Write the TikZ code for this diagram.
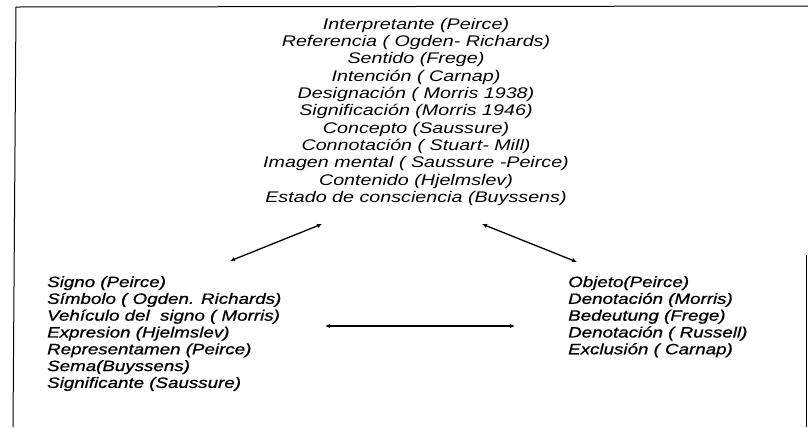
\documentclass[tikz,border=0pt]{standalone}
\usepackage{fontspec}
\usetikzlibrary{arrows.meta}
\newfontfamily\topfont{Liberation Sans}[FakeStretch=1.28]
\newfontfamily\botfont{Liberation Sans}[FakeStretch=1.25,ItalicFeatures={FakeBold=0.8}]
\tikzset{
  toptext/.style={inner sep=0pt, align=center, anchor=north,
    font=\topfont\itshape\fontsize{15.4bp}{17.3bp}\selectfont},
  bottext/.style={inner sep=0pt, align=left, anchor=north west,
    font=\botfont\itshape\fontsize{15bp}{16.8bp}\selectfont},
  link/.style={line width=1.3bp, {Latex[length=5bp,width=4.5bp]}-{Latex[length=5bp,width=4.5bp]}},
  frame/.style={line width=1bp}
}
\begin{document}
\begin{tikzpicture}[x=1bp,y=-1bp]
\useasboundingbox (0,0) rectangle (808,427);
% frame (only the parts visible)
\draw[frame] (13,427) -- (16,7) -- (808,6);
\draw[frame] (806,255) -- (806,427);
% texts
\node[toptext] (top) at (416,18) {Interpretante (Peirce)\\
Referencia ( Ogden- Richards)\\
Sentido (Frege)\\
Intención ( Carnap)\\
Designación ( Morris 1938)\\
Significación (Morris 1946)\\
Concepto (Saussure)\\
Connotación ( Stuart- Mill)\\
Imagen mental ( Saussure -Peirce)\\
Contenido (Hjelmslev)\\
Estado de consciencia (Buyssens)};
\node[bottext] (left) at (47,276) {Signo (Peirce)\\
Símbolo ( Ogden. Richards)\\
Vehículo del\ \ signo ( Morris)\\
Expresion (Hjelmslev)\\
Representamen (Peirce)\\
Sema(Buyssens)\\
Significante (Saussure)};
\node[bottext] (right) at (568,276) {Objeto(Peirce)\\
Denotación (Morris)\\
Bedeutung (Frege)\\
Denotación ( Russell)\\
Exclusión ( Carnap)};
% arrow ends
\coordinate (la) at (230,261);
\coordinate (lb) at (322,224);
\coordinate (ra) at (482,224);
\coordinate (rb) at (577,262);
\coordinate (ha) at (325,326);
\coordinate (hb) at (515,326);
\draw[link] (la) -- (lb);
\draw[link] (ra) -- (rb);
\draw[link] (ha) -- (hb);
\end{tikzpicture}
\end{document}
